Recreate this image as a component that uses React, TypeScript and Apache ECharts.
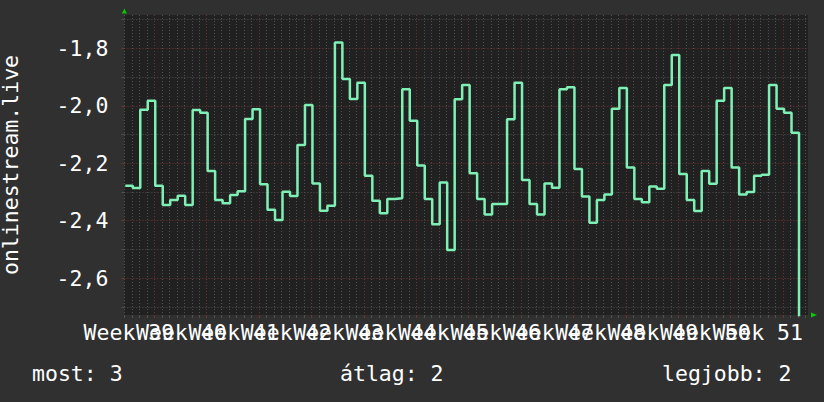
import { useEffect, useRef } from "react";
import * as echarts from "echarts";

// ---- data ----
const FIRST_DAY = -4; // day index of the first value (0 = start of week 40)
const DAY_OFFSET = 0.12;
const VALUES = [
  -2.278, -2.286, -2.014, -1.982,
  -2.278, -2.345, -2.328, -2.313, -2.345, -2.015, -2.024,
  -2.227, -2.328, -2.339, -2.31, -2.297, -2.046, -2.012,
  -2.273, -2.362, -2.397, -2.299, -2.314, -2.136, -1.997,
  -2.27, -2.365, -2.348, -1.78, -1.907, -1.976, -1.92,
  -2.243, -2.33, -2.374, -2.324, -2.322, -1.942, -2.052,
  -2.208, -2.324, -2.412, -2.267, -2.502, -1.977, -1.928,
  -2.235, -2.324, -2.378, -2.342, -2.342, -2.047, -1.92,
  -2.258, -2.342, -2.378, -2.27, -2.285, -1.942, -1.935,
  -2.22, -2.316, -2.407, -2.328, -2.309, -2.01, -1.938,
  -2.215, -2.324, -2.336, -2.281, -2.289, -1.928, -1.823,
  -2.237, -2.328, -2.366, -2.227, -2.271, -1.982, -1.938,
  -2.215, -2.309, -2.3, -2.243, -2.24, -1.928, -2.01,
  -2.024, -2.094, -3.0,
];
const WEEK_NUMBERS = [39, 40, 41, 42, 43, 44, 45, 46, 47, 48, 49, 50, 51];
const WEEK_CENTERS = [-3.4, 3.6, 10.6, 17.6, 24.6, 31.6, 38.6, 45.6, 52.6, 59.6, 66.6, 73.6, 80.6];
const X_MINOR = Array.from({ length: 92 }, (_, i) => i - 4).filter((d) => d % 7 !== 0);
const X_MAJOR = [0, 7, 14, 21, 28, 35, 42, 49, 56, 63, 70, 77, 84];
const Y_MAJOR = [-2.6, -2.4, -2.2, -2.0, -1.8];
const Y_MINOR = [-2.7, -2.5, -2.3, -2.1, -1.9, -1.7];
const X_MIN = -4;
const X_MAX = 87.32;
const Y_MIN = -2.728;
const Y_MAX = -1.684;
const Y_NAME = "onlinestream.live";
const STAT_LABELS = ["most", "átlag", "legjobb"];
const STAT_VALUES = [3, 2, 2];

const FONT = '"DejaVu Sans Mono", monospace';
const FS = 21.5;
const MINOR_COLOR = "#505050";
const MAJOR_COLOR = "#6e3434";
const ARROW = "#00cc00";

export default function App() {
  const ref = useRef<HTMLDivElement>(null);
  useEffect(() => {
    const chart = echarts.init(ref.current!, null, { renderer: "svg" });
    const data = VALUES.map((v, i) => [Math.max(FIRST_DAY + i + DAY_OFFSET, X_MIN), v]);
    // dummy edge labels absorb ECharts' min/max-label overlap hiding
    const labelValues = [X_MIN, ...WEEK_CENTERS, X_MAX];
    const statX = [32, 340, 662];
    const option: any = {
      animation: false,
      backgroundColor: "#303030",
      textStyle: { fontFamily: FONT },
      grid: {
        left: 124.4,
        right: 16,
        top: 15,
        bottom: 87,
        show: true,
        containLabel: false,
        outerBoundsMode: "none",
        backgroundColor: "#212121",
        borderWidth: 0,
      },
      xAxis: [
        {
          type: "value",
          position: "bottom",
          min: X_MIN,
          max: X_MAX,
          axisLine: { show: false, onZero: false },
          axisTick: { show: true, length: 3, customValues: X_MINOR, lineStyle: { color: MINOR_COLOR } },
          axisLabel: { show: false },
          splitLine: { show: true, lineStyle: { color: MINOR_COLOR, type: [1, 2], width: 1 } },
        },
        {
          type: "value",
          position: "bottom",
          min: X_MIN,
          max: X_MAX,
          axisLine: {
            show: true,
            onZero: false,
            symbol: ["none", "triangle"],
            symbolSize: [5, 6],
            symbolOffset: [0, 6],
            lineStyle: { color: ARROW, width: 0 },
          },
          axisTick: { show: true, length: 3, customValues: X_MAJOR, lineStyle: { color: MAJOR_COLOR } },
          axisLabel: {
            show: true,
            customValues: labelValues,
            margin: 6,
            color: "#ffffff",
            fontFamily: FONT,
            fontSize: FS,
            hideOverlap: false,
            formatter: (v: number) => {
              if (v <= X_MIN || v >= X_MAX) return " ";
              let best = 0;
              WEEK_CENTERS.forEach((c, i) => {
                if (Math.abs(c - v) < Math.abs(WEEK_CENTERS[best] - v)) best = i;
              });
              return "Week " + WEEK_NUMBERS[best];
            },
          },
          splitLine: { show: true, lineStyle: { color: MAJOR_COLOR, type: [1, 2], width: 1 } },
        },
      ],
      yAxis: [
        {
          type: "value",
          position: "left",
          min: Y_MIN,
          max: Y_MAX,
          name: Y_NAME,
          nameLocation: "middle",
          nameRotate: 90,
          nameGap: 103,
          nameTextStyle: { color: "#ffffff", fontFamily: FONT, fontSize: FS },
          axisLine: { show: false, onZero: false },
          axisTick: { show: true, length: 3, customValues: Y_MINOR, lineStyle: { color: MINOR_COLOR } },
          axisLabel: {
            show: true,
            customValues: Y_MAJOR,
            margin: 16,
            color: "#ffffff",
            fontFamily: FONT,
            fontSize: FS,
            formatter: (v: number) => v.toFixed(1).replace(".", ","),
          },
          splitLine: { show: true, lineStyle: { color: MINOR_COLOR, type: [1, 2], width: 1 } },
        },
        {
          type: "value",
          position: "left",
          min: Y_MIN,
          max: Y_MAX,
          axisLine: {
            show: true,
            onZero: false,
            symbol: ["none", "triangle"],
            symbolSize: [5, 5],
            symbolOffset: [0, 4],
            lineStyle: { color: ARROW, width: 0 },
          },
          axisTick: { show: true, length: 3, customValues: Y_MAJOR, lineStyle: { color: MAJOR_COLOR } },
          axisLabel: { show: false },
          splitLine: { show: true, lineStyle: { color: MAJOR_COLOR, type: [1, 2], width: 1 } },
        },
      ],
      series: [
        {
          type: "line",
          xAxisIndex: 0,
          yAxisIndex: 0,
          step: "end",
          showSymbol: false,
          symbol: "none",
          clip: true,
          lineStyle: { color: "#7ef0b6", width: 2.5 },
          data,
          z: 5,
        },
      ],
      graphic: STAT_LABELS.map((l, i) => ({
        type: "text",
        left: statX[i],
        top: 362,
        style: {
          text: `${l}: ${STAT_VALUES[i]}`,
          fill: "#ffffff",
          font: `${FS}px ${FONT}`,
        },
      })),
    };
    chart.setOption(option);
    return () => chart.dispose();
  }, []);
  return (
    <div
      ref={ref}
      style={{ position: "fixed", left: 0, top: 0, width: 824, height: 402 }}
    />
  );
}
